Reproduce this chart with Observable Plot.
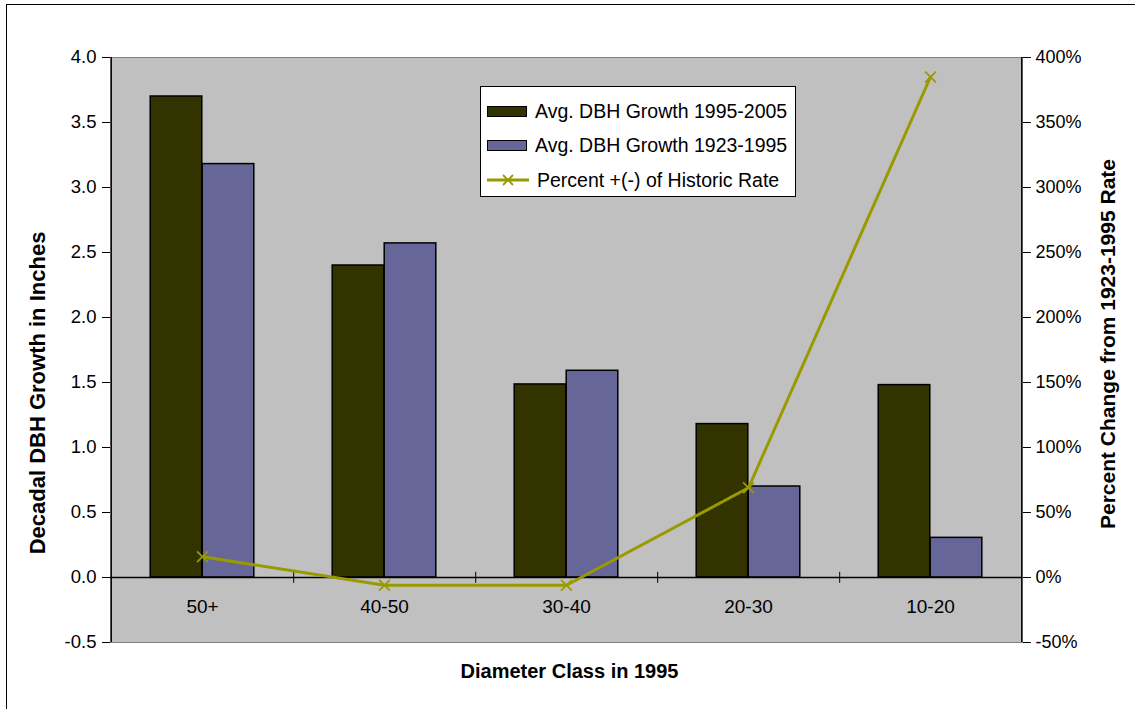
<!DOCTYPE html>
<html>
<head>
<meta charset="utf-8">
<script src="https://cdn.jsdelivr.net/npm/d3@7"></script>
<script src="https://cdn.jsdelivr.net/npm/@observablehq/plot@0.6"></script>
<style>
  html, body { margin: 0; padding: 0; background: #fff; overflow: hidden; }
  #wrap { position: relative; width: 1135px; height: 709px; font-family: "Liberation Sans", Arial, sans-serif; }
  #border { position: absolute; left: 6px; top: 4px; width: 1160px; height: 740px; border: 1.5px solid #000; box-sizing: border-box; pointer-events: none; }
  #legend { position: absolute; left: 480px; top: 86px; width: 316px; height: 111px; background: #fff; border: 1.5px solid #000; box-sizing: border-box; }
  .row { position: absolute; left: 6px; height: 24px; display: flex; align-items: center; font-size: 19.5px; color: #000; white-space: nowrap; }
  .sw { width: 40px; height: 11px; border: 1.5px solid #000; box-sizing: border-box; margin-right: 8px; }
  svg.lsw { margin-right: 8px; }
</style>
</head>
<body>
<div id="wrap">
  <div id="chart"></div>
  <div id="legend"></div>
  <div id="border"></div>
</div>
<script>
const categories = ["50+", "40-50", "30-40", "20-30", "10-20"];
const growth1995_2005 = [3.70, 2.40, 1.485, 1.18, 1.48];
const growth1923_1995 = [3.18, 2.57, 1.59, 0.70, 0.305];
const pctChange = [16, -6, -6, 69, 385];
const seriesNames = ["Avg. DBH Growth 1995-2005", "Avg. DBH Growth 1923-1995", "Percent +(-) of Historic Rate"];
const seriesColors = ["#333300", "#666699", "#999900"];
const leftTicks = [-0.5, 0, 0.5, 1, 1.5, 2, 2.5, 3, 3.5, 4];
const xTitle = "Diameter Class in 1995";
const yTitle = "Decadal DBH Growth in Inches";
const y2Title = "Percent Change from 1923-1995 Rate";

const W = 1135, H = 709, mL = 110, mR = 113, mT = 57, mB = 67;
const step = (W - mL - mR) / categories.length;
const barW = 52;
const outer = (step - 2 * barW) / 2;

const rows = categories.map((c, i) => ({cat: c, a: growth1995_2005[i], b: growth1923_1995[i], p: pctChange[i] / 100}));

const chart = Plot.plot({
  width: W, height: H,
  marginLeft: mL, marginRight: mR, marginTop: mT, marginBottom: mB,
  style: {fontFamily: "Liberation Sans, Arial, sans-serif", fontSize: "18px", color: "#000", background: "transparent"},
  x: {type: "band", domain: categories, paddingInner: 0, paddingOuter: 0, axis: null},
  y: {domain: [-0.5, 4], axis: null},
  marks: [
    Plot.frame({fill: "#c0c0c0", stroke: "#808080"}),
    Plot.barY(rows, {x: "cat", y: "a", fill: seriesColors[0], stroke: "#000", strokeWidth: 1.5, insetLeft: outer, insetRight: outer + barW}),
    Plot.barY(rows, {x: "cat", y: "b", fill: seriesColors[1], stroke: "#000", strokeWidth: 1.5, insetLeft: outer + barW, insetRight: outer}),
    Plot.ruleY([0], {stroke: "#000", strokeWidth: 1.3}),
    Plot.ruleX(categories.slice(0, 4), {x: d => d, dx: step / 2, y1: -0.045, y2: 0.04, stroke: "#000", strokeWidth: 1}),
    Plot.ruleX([categories[0]], {x: d => d, dx: -step / 2, stroke: "#000", strokeWidth: 1.3}),
    Plot.ruleX([categories[categories.length - 1]], {x: d => d, dx: step / 2, stroke: "#000", strokeWidth: 1.3}),
    Plot.line(rows, {x: "cat", y: "p", stroke: seriesColors[2], strokeWidth: 3}),
    Plot.dot(rows, {x: "cat", y: "p", symbol: "times", r: 5, stroke: seriesColors[2], strokeWidth: 1.8}),
    Plot.text(categories, {x: d => d, y: 0, dy: 29, text: d => d, fontSize: 19}),
    Plot.axisY(leftTicks, {anchor: "left", tickSize: 8, tickPadding: 6, tickFormat: d => d.toFixed(1), fontSize: 18.5, label: null, stroke: "#000"}),
    Plot.axisY(leftTicks, {anchor: "right", tickSize: 8, tickPadding: 5, tickFormat: d => Math.round(d * 100) + "%", fontSize: 18, label: null, stroke: "#000"}),
    Plot.text([yTitle], {frameAnchor: "left", textAnchor: "middle", dx: -73, dy: 43, rotate: -90, fontWeight: "bold", fontSize: 22}),
    Plot.text([y2Title], {frameAnchor: "right", textAnchor: "middle", dx: 86, dy: -6, rotate: -90, fontWeight: "bold", fontSize: 21}),
    Plot.text([xTitle], {frameAnchor: "bottom", dy: 35, dx: 3, fontWeight: "bold", fontSize: 20})
  ]
});
document.getElementById("chart").appendChild(chart);

// Legend
const legend = document.getElementById("legend");
const rowTops = [12, 46, 81];
seriesNames.forEach((name, i) => {
  const r = document.createElement("div");
  r.className = "row";
  r.style.top = rowTops[i] + "px";
  if (i < 2) {
    const s = document.createElement("div");
    s.className = "sw";
    s.style.background = seriesColors[i];
    r.appendChild(s);
  } else {
    const svg = d3.create("svg").attr("class", "lsw").attr("width", 42).attr("height", 14);
    svg.append("line").attr("x1", 0).attr("x2", 42).attr("y1", 7).attr("y2", 7).attr("stroke", seriesColors[2]).attr("stroke-width", 3);
    svg.append("path").attr("d", "M16,2L26,12M26,2L16,12").attr("stroke", seriesColors[2]).attr("stroke-width", 1.8);
    r.appendChild(svg.node());
  }
  const t = document.createElement("span");
  t.textContent = name;
  r.appendChild(t);
  legend.appendChild(r);
});
</script>
</body>
</html>
